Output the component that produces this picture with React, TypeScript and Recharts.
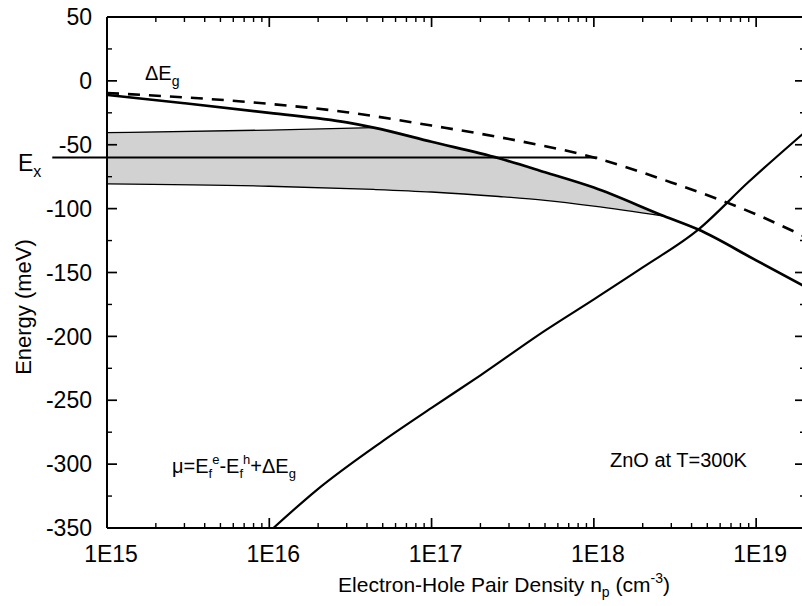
import React from 'react';
import { ComposedChart, Line, Area, XAxis, YAxis, ReferenceLine } from 'recharts';

// ---- axis ticks ----
const majorX = [1e15, 1e16, 1e17, 1e18, 1e19];
const majorXLabels = ['1E15', '1E16', '1E17', '1E18', '1E19'];
const minorX = [
  2e15, 3e15, 4e15, 5e15, 6e15, 7e15, 8e15, 9e15,
  2e16, 3e16, 4e16, 5e16, 6e16, 7e16, 8e16, 9e16,
  2e17, 3e17, 4e17, 5e17, 6e17, 7e17, 8e17, 9e17,
  2e18, 3e18, 4e18, 5e18, 6e18, 7e18, 8e18, 9e18,
];
const majorY = [50, 0, -50, -100, -150, -200, -250, -300, -350];
const minorY = [25, -25, -75, -125, -175, -225, -275, -325];
const xDomain = [1e15, 2e19];
const yDomain = [-350, 50];
const allX = [...majorX, ...minorX];
const allY = [...majorY, ...minorY];

// ---- series (n in cm^-3, e in meV) ----
const bandGapShift = [ // dashed ΔEg
  { n: 1e15, e: -9.5 },
  { n: 1e16, e: -18 },
  { n: 3e16, e: -24.5 },
  { n: 1e17, e: -35 },
  { n: 3e17, e: -45.5 },
  { n: 1e18, e: -60 },
  { n: 3e18, e: -79.5 },
  { n: 1e19, e: -104.5 },
  { n: 2e19, e: -122 },
];
const renormEdge = [ // thick solid
  { n: 1e15, e: -11 },
  { n: 3e15, e: -17.5 },
  { n: 1e16, e: -25 },
  { n: 3e16, e: -32.5 },
  { n: 4.4e16, e: -36.6 },
  { n: 1e17, e: -47.7 },
  { n: 2.6e17, e: -60.6 },
  { n: 5e17, e: -71.5 },
  { n: 1e18, e: -83.5 },
  { n: 2.7e18, e: -105.8 },
  { n: 4.4e18, e: -116.4 },
  { n: 1e19, e: -140.5 },
  { n: 2e19, e: -161 },
];
const grayN = [1e15, 1e16, 4.4e16, 1e17, 2.6e17, 5e17, 1e18, 2.7e18];
const grayUpper = [-40.5, -38.5, -36.6, -47.7, -60.6, -71.5, -83.5, -105.8];
const grayLower = [-80.7, -82.5, -85, -87, -90.5, -93.5, -98, -105.8];
const chemPot = [ // μ
  { n: 1.06e16, e: -350 },
  { n: 1.95e16, e: -320.5 },
  { n: 5e16, e: -282 },
  { n: 1e17, e: -256 },
  { n: 2e17, e: -230.5 },
  { n: 5e17, e: -195.5 },
  { n: 1e18, e: -171 },
  { n: 2e18, e: -146 },
  { n: 4.4e18, e: -116.4 },
  { n: 9e18, e: -79 },
  { n: 2e19, e: -40 },
];
const excitonLevel = -60;
const excitonStart = 4.6e14;
const excitonEnd = 1.05e18;

const grayBand = grayN.map((n, i) => ({ n, range: [grayLower[i], grayUpper[i]] }));
const upperThin = grayN.slice(0, 3).map((n, i) => ({ n, e: grayUpper[i] }));
const lowerThin = grayN.map((n, i) => ({ n, e: grayLower[i] }));

const FONT = 'Liberation Sans, Arial, Helvetica, sans-serif';
const MAJOR = 10;
const MINOR = 5;
const TICK_FONT = 23;

const BottomTick = (p: any) => {
  const v = p.payload.value;
  const isMajor = majorX.includes(v);
  const x = p.x;
  const y = p.y;
  return (
    <g>
      <line x1={x} y1={y} x2={x} y2={y - (isMajor ? MAJOR : MINOR)} stroke="#000" strokeWidth={isMajor ? 1.7 : 1.4} />
      {isMajor && (
        <text x={x + 4} y={y + 34} textAnchor="middle" fontSize={TICK_FONT} fontFamily={FONT} fill="#000">
          {majorXLabels[majorX.indexOf(v)]}
        </text>
      )}
    </g>
  );
};
const TopTick = (p: any) => {
  const v = p.payload.value;
  const isMajor = majorX.includes(v);
  return (
    <line x1={p.x} y1={p.y} x2={p.x} y2={p.y + (isMajor ? MAJOR : MINOR)} stroke="#000" strokeWidth={isMajor ? 1.7 : 1.4} />
  );
};
const LeftTick = (p: any) => {
  const v = p.payload.value;
  const isMajor = majorY.includes(v);
  return (
    <g>
      <line x1={p.x} y1={p.y} x2={p.x + (isMajor ? MAJOR : MINOR)} y2={p.y} stroke="#000" strokeWidth={isMajor ? 1.7 : 1.4} />
      {isMajor && (
        <text x={p.x - 15} y={p.y} dy="0.355em" textAnchor="end" fontSize={TICK_FONT} fontFamily={FONT} fill="#000">
          {String(v)}
        </text>
      )}
    </g>
  );
};
const RightTick = (p: any) => {
  const v = p.payload.value;
  const isMajor = majorY.includes(v);
  return (
    <line x1={p.x} y1={p.y} x2={p.x - (isMajor ? MAJOR : MINOR)} y2={p.y} stroke="#000" strokeWidth={isMajor ? 1.7 : 1.4} />
  );
};

const axisLineStyle = { stroke: '#000', strokeWidth: 2 };
const W = 820;
const H = 606;

export default function App() {
  return (
    <div style={{ position: 'absolute', left: 0, top: 0, width: 802, height: 606, overflow: 'hidden', background: '#fff' }}>
      <ComposedChart width={W} height={H} margin={{ top: 16, right: 14, bottom: 77, left: 106 }}>
        <XAxis
          xAxisId={0}
          dataKey="n"
          type="number"
          scale="log"
          domain={xDomain}
          allowDataOverflow
          ticks={allX}
          interval={0}
          height={1}
          tickSize={0}
          tickMargin={0}
          tickLine={false}
          tick={BottomTick}
          axisLine={axisLineStyle}
        />
        <XAxis
          xAxisId="t"
          orientation="top"
          dataKey="n"
          type="number"
          scale="log"
          domain={xDomain}
          allowDataOverflow
          ticks={allX}
          interval={0}
          height={1}
          tickSize={0}
          tickMargin={0}
          tickLine={false}
          tick={TopTick}
          axisLine={axisLineStyle}
        />
        <YAxis
          yAxisId={0}
          type="number"
          domain={yDomain}
          allowDataOverflow
          ticks={allY}
          interval={0}
          width={1}
          tickSize={0}
          tickMargin={0}
          tickLine={false}
          tick={LeftTick}
          axisLine={axisLineStyle}
        />
        <YAxis
          yAxisId="r"
          orientation="right"
          type="number"
          domain={yDomain}
          allowDataOverflow
          ticks={allY}
          interval={0}
          width={1}
          tickSize={0}
          tickMargin={0}
          tickLine={false}
          tick={RightTick}
          axisLine={axisLineStyle}
        />

        <Area
          data={grayBand}
          dataKey="range"
          type="monotone"
          stroke="none"
          fill="#d2d2d2"
          fillOpacity={1}
          isAnimationActive={false}
          dot={false}
          activeDot={false}
        />
        <Line data={upperThin} dataKey="e" type="monotone" stroke="#000" strokeWidth={1.3} dot={false} activeDot={false} isAnimationActive={false} />
        <Line data={lowerThin} dataKey="e" type="monotone" stroke="#000" strokeWidth={1.3} dot={false} activeDot={false} isAnimationActive={false} />
        <ReferenceLine
          segment={[{ x: excitonStart, y: excitonLevel }, { x: excitonEnd, y: excitonLevel }]}
          ifOverflow="visible"
          stroke="#000"
          strokeWidth={2}
        />
        <Line data={bandGapShift} dataKey="e" type="monotone" stroke="#000" strokeWidth={2.6} strokeDasharray="12 9" dot={false} activeDot={false} isAnimationActive={false} />
        <Line data={renormEdge} dataKey="e" type="monotone" stroke="#000" strokeWidth={2.7} dot={false} activeDot={false} isAnimationActive={false} />
        <Line data={chemPot} dataKey="e" type="monotone" stroke="#000" strokeWidth={2.2} dot={false} activeDot={false} isAnimationActive={false} />

        <g fontFamily={FONT} fill="#000">
          <text x={145} y={80} fontSize={20}>
            ΔE<tspan fontSize={14} dy={6}>g</tspan>
          </text>
          <text x={18} y={171} fontSize={23}>
            E<tspan fontSize={16} dy={6}>x</tspan>
          </text>
          <text x={172} y={473} fontSize={20}>
            μ=E<tspan fontSize={13} dy={5}>f</tspan>
            <tspan fontSize={13} dy={-14}>e</tspan>
            <tspan fontSize={20} dy={9}>-E</tspan>
            <tspan fontSize={13} dy={5}>f</tspan>
            <tspan fontSize={13} dy={-14}>h</tspan>
            <tspan fontSize={20} dy={9}>+ΔE</tspan>
            <tspan fontSize={13} dy={5}>g</tspan>
          </text>
          <text x={610} y={467} fontSize={20}>ZnO at T=300K</text>
          <text x={504} y={592} fontSize={21} textAnchor="middle">
            Electron-Hole Pair Density n<tspan fontSize={14} dy={5}>p</tspan>
            <tspan fontSize={21} dy={-5}> (cm</tspan>
            <tspan fontSize={14} dy={-9}>-3</tspan>
            <tspan fontSize={21} dy={9}>)</tspan>
          </text>
          <text x={31} y={307} fontSize={22} textAnchor="middle" transform="rotate(-90, 31, 307)">
            Energy (meV)
          </text>
        </g>
      </ComposedChart>
    </div>
  );
}
